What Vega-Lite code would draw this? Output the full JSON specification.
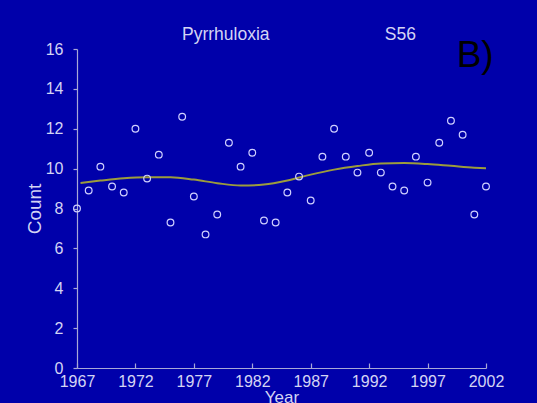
{
  "$schema": "https://vega.github.io/schema/vega-lite/v6.json",
  "autosize": "none",
  "width": 409,
  "height": 319,
  "padding": {"left": 77, "top": 49, "right": 51, "bottom": 35},
  "background": "#0000aa",
  "title": {
    "text": "Pyrrhuloxia\u00a0\u00a0\u00a0\u00a0\u00a0\u00a0\u00a0\u00a0\u00a0\u00a0\u00a0\u00a0\u00a0\u00a0\u00a0\u00a0\u00a0\u00a0\u00a0\u00a0\u00a0\u00a0\u00a0\u2009S56",
    "subtitle": "\u200b\u00a0\u00a0\u00a0\u00a0\u00a0\u00a0\u00a0\u00a0\u00a0\u00a0\u00a0\u00a0\u00a0\u00a0\u00a0\u00a0\u00a0\u00a0\u00a0\u00a0\u00a0\u00a0\u00a0\u00a0\u00a0\u00a0\u2009B)",
    "anchor": "start",
    "frame": "group",
    "dx": 105,
    "offset": -33,
    "font": "Liberation Sans",
    "fontSize": 17.5,
    "fontWeight": "normal",
    "color": "#d4d4f4",
    "subtitleFont": "Liberation Sans",
    "subtitleFontSize": 37,
    "subtitleColor": "#000000",
    "subtitlePadding": -5
  },
  "datasets": {
    "counts": [
      {"year": 1967, "count": 8.0},
      {"year": 1968, "count": 8.9},
      {"year": 1969, "count": 10.1},
      {"year": 1970, "count": 9.1},
      {"year": 1971, "count": 8.8},
      {"year": 1972, "count": 12.0},
      {"year": 1973, "count": 9.5},
      {"year": 1974, "count": 10.7},
      {"year": 1975, "count": 7.3},
      {"year": 1976, "count": 12.6},
      {"year": 1977, "count": 8.6},
      {"year": 1978, "count": 6.7},
      {"year": 1979, "count": 7.7},
      {"year": 1980, "count": 11.3},
      {"year": 1981, "count": 10.1},
      {"year": 1982, "count": 10.8},
      {"year": 1983, "count": 7.4},
      {"year": 1984, "count": 7.3},
      {"year": 1985, "count": 8.8},
      {"year": 1986, "count": 9.6},
      {"year": 1987, "count": 8.4},
      {"year": 1988, "count": 10.6},
      {"year": 1989, "count": 12.0},
      {"year": 1990, "count": 10.6},
      {"year": 1991, "count": 9.8},
      {"year": 1992, "count": 10.8},
      {"year": 1993, "count": 9.8},
      {"year": 1994, "count": 9.1},
      {"year": 1995, "count": 8.9},
      {"year": 1996, "count": 10.6},
      {"year": 1997, "count": 9.3},
      {"year": 1998, "count": 11.3},
      {"year": 1999, "count": 12.4},
      {"year": 2000, "count": 11.7},
      {"year": 2001, "count": 7.7},
      {"year": 2002, "count": 9.1}
    ],
    "trend": [
      {"year": 1967.3, "count": 9.28},
      {"year": 1969, "count": 9.4},
      {"year": 1971, "count": 9.52},
      {"year": 1973, "count": 9.57},
      {"year": 1975, "count": 9.57},
      {"year": 1977, "count": 9.45},
      {"year": 1979, "count": 9.27},
      {"year": 1981, "count": 9.15},
      {"year": 1983, "count": 9.2},
      {"year": 1985, "count": 9.4},
      {"year": 1987, "count": 9.7},
      {"year": 1989, "count": 9.95},
      {"year": 1991, "count": 10.13},
      {"year": 1993, "count": 10.26},
      {"year": 1995, "count": 10.28},
      {"year": 1997, "count": 10.23},
      {"year": 1999, "count": 10.14},
      {"year": 2001, "count": 10.05},
      {"year": 2002, "count": 10.02}
    ]
  },
  "encoding": {
    "x": {
      "field": "year",
      "type": "quantitative",
      "scale": {"domain": [1967, 2002], "nice": false, "zero": false},
      "axis": {
        "title": "Year",
        "values": [1967, 1972, 1977, 1982, 1987, 1992, 1997, 2002],
        "format": "d",
        "tickSize": -5,
        "labelPadding": 10,
        "labelFlush": false,
        "labelOverlap": false,
        "labelFontSize": 16,
        "titleFontSize": 17,
        "titlePadding": 0
      }
    },
    "y": {
      "field": "count",
      "type": "quantitative",
      "scale": {"domain": [0, 16], "nice": false},
      "axis": {
        "title": "Count",
        "values": [0, 2, 4, 6, 8, 10, 12, 14, 16],
        "tickSize": 4,
        "labelPadding": 10,
        "labelFlush": false,
        "labelOverlap": false,
        "labelFontSize": 16,
        "titleFontSize": 19,
        "titlePadding": 1
      }
    }
  },
  "layer": [
    {
      "data": {"name": "trend"},
      "mark": {"type": "line", "color": "#9c9c3c", "strokeWidth": 2, "interpolate": "monotone"}
    },
    {
      "data": {"name": "counts"},
      "mark": {"type": "point", "shape": "circle", "filled": false, "color": "#d0d0ff", "size": 45, "strokeWidth": 1.2, "opacity": 1}
    }
  ],
  "config": {
    "view": {"stroke": null},
    "axis": {
      "grid": false,
      "labelFont": "Liberation Sans",
      "titleFont": "Liberation Sans",
      "labelColor": "#d4d4f4",
      "titleColor": "#d4d4f4",
      "titleFontWeight": "normal",
      "domainColor": "#a8a8d8",
      "tickColor": "#a8a8d8",
      "domainWidth": 1.2,
      "tickWidth": 1.2
    }
  }
}
